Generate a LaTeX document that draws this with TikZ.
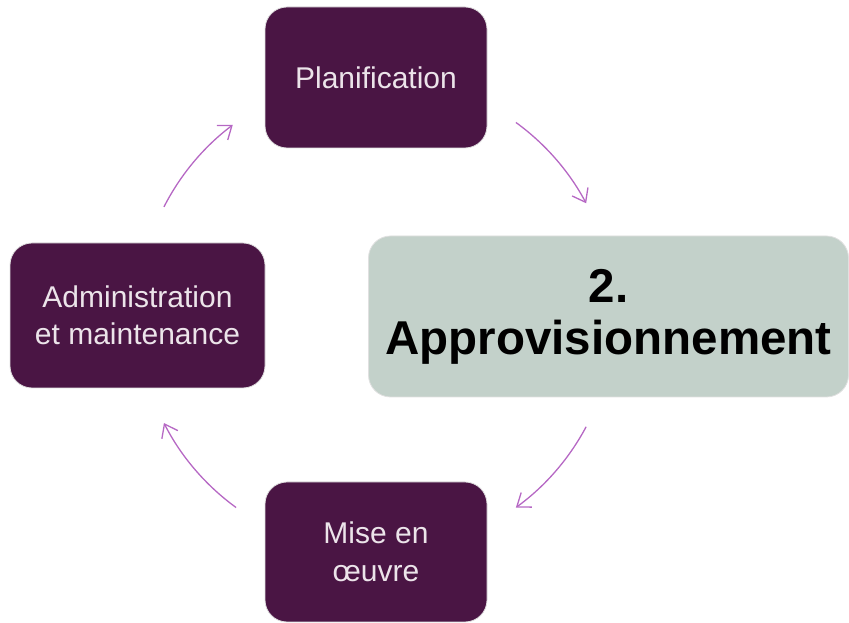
\documentclass[tikz,border=0pt]{standalone}
\usepackage{fontspec}
\setmainfont{Liberation Sans}
\usetikzlibrary{arrows.meta}
\definecolor{plum}{RGB}{74,21,68}
\definecolor{sage}{RGB}{195,209,202}
\definecolor{boxtext}{RGB}{236,228,234}
\definecolor{arrowc}{RGB}{182,104,196}
\tikzset{
  stage/.style={rounded corners=22pt, fill=plum, draw=black!12, line width=0.8pt,
    text=boxtext, align=center, inner sep=0pt,
    font=\fontsize{30}{37.5}\selectfont},
  current/.style={rounded corners=22pt, fill=sage, draw=black!12, line width=0.8pt,
    text=black, align=center, inner sep=0pt,
    font=\bfseries\fontsize{47.5}{52}\selectfont},
  cyc/.style={draw=arrowc, line width=1.3pt, -{Straight Barb[length=12pt,width=18pt,line width=1.3pt]}}
}
\begin{document}
\begin{tikzpicture}[x=1pt,y=1pt]
\useasboundingbox (0,0) rectangle (849,623);
\node[stage, minimum width=222pt, minimum height=141pt] (plan) at (376,545.5) {Planification};
\node[stage, minimum width=255pt, minimum height=145pt] (admin) at (137.5,307.5) {Administration\\et maintenance};
\node[current, minimum width=480pt, minimum height=161pt] (appro) at (608.5,306.5) {2.\\Approvisionnement};
\node[stage, minimum width=222pt, minimum height=140pt] (mise) at (376,71) {Mise en\\œuvre};
\coordinate (c) at (376,308);
\draw[cyc] ([shift={(54:238)}]c) arc[start angle=54, end angle=28, radius=238];
\draw[cyc] ([shift={(-28:238)}]c) arc[start angle=-28, end angle=-54, radius=238];
\draw[cyc] ([shift={(-126:238)}]c) arc[start angle=-126, end angle=-153, radius=238];
\draw[cyc] ([shift={(153:238)}]c) arc[start angle=153, end angle=127, radius=238];
\end{tikzpicture}
\end{document}
